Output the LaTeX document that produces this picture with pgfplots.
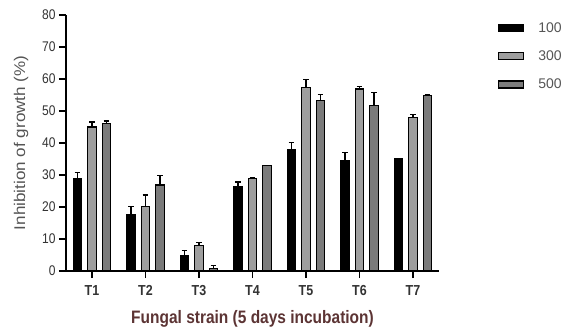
\documentclass[border=0pt]{standalone}
\usepackage{fontspec}
\setmainfont{Liberation Sans}
\newfontfamily\condfont[FakeStretch=0.86]{Liberation Sans}
\newfontfamily\widefont[FakeStretch=1.1]{Liberation Sans}
\usepackage{pgfplots}
\pgfplotsset{compat=1.18}
\definecolor{lgray}{HTML}{9E9E9E}
\definecolor{dgray}{HTML}{7B7B7B}
\definecolor{brownlab}{HTML}{5C3434}
\definecolor{ticktxt}{HTML}{333333}
\definecolor{labgray}{HTML}{555555}
\begin{document}
\begin{tikzpicture}
\path[use as bounding box] (-66pt,-58pt) rectangle (503pt,271pt);
\begin{axis}[
  scale only axis,
  width=373pt, height=256.3pt,
  xmin=0.514, xmax=7.486,
  ymin=0, ymax=80,
  ytick={0,10,...,80},
  xtick={1,...,7},
  xticklabels={T1,T2,T3,T4,T5,T6,T7},
  axis lines=left,
  axis line style={-, line width=1.8pt, black},
  xtick align=outside,
  ytick align=outside,
  major tick length=7pt,
  major tick style={draw=black, line width=1.8pt},
  ytick style={draw=black, line width=2.2pt},
  xtick style={draw=black, line width=1.8pt},
  clip=false,
  /pgf/number format/assume math mode=true,
  yticklabel style={font=\condfont\fontsize{14}{14}\selectfont, text=ticktxt},
  xticklabel style={font=\condfont\bfseries\fontsize{14.5}{14.5}\selectfont, text=ticktxt, yshift=-4pt},
  xlabel={Fungal strain (5 days incubation)},
  ylabel={Inhibition of growth (\%)},
  xlabel style={font=\condfont\bfseries\fontsize{18}{18}\selectfont, text=brownlab, at={(axis description cs:0.5,0)}, anchor=base, yshift=-52pt},
  ylabel style={font=\widefont\fontsize{15.5}{15.5}\selectfont, text=labgray, at={(axis description cs:-0.1206,0.5)}, anchor=center},
  ybar=6pt,
  bar width=8.5pt,
  legend style={at={(1.150,0.987)}, anchor=north west, draw=none, fill=none,
    font=\fontsize{14}{14}\selectfont, text=labgray, row sep=13pt,
    /tikz/every odd column/.append style={column sep=12pt}},
  legend cell align=left,
  legend image code/.code={\draw[#1, line width=1.2pt] (0pt,-3.5pt) rectangle (25pt,3.5pt);},
  error bars/y dir=plus,
  error bars/y explicit,
  error bars/error bar style={line width=1.2pt, black},
  error bars/error mark options={rotate=90, mark size=2.8pt, line width=1.2pt, black},
]
\addplot[fill=black, draw=black, line width=1.4pt] coordinates {
 (1,28.8) +- (0,2.0)
 (2,17.7) +- (0,2.4)
 (3,4.9) +- (0,1.6)
 (4,26.3) +- (0,1.5)
 (5,37.8) +- (0,2.2)
 (6,34.4) +- (0,2.5)
 (7,34.9) +- (0,0.3)
};
\addplot[fill=lgray, draw=black, line width=1.4pt] coordinates {
 (1,45.0) +- (0,1.5)
 (2,20.1) +- (0,3.6)
 (3,7.9) +- (0,1.1)
 (4,28.8) +- (0,0.5)
 (5,57.2) +- (0,2.6)
 (6,56.8) +- (0,0.9)
 (7,48.0) +- (0,0.9)
};
\addplot[fill=dgray, draw=black, line width=1.4pt] coordinates {
 (1,46.0) +- (0,0.8)
 (2,26.8) +- (0,3.0)
 (3,0.8) +- (0,1.0)
 (4,32.9) +- (0,0.0)
 (5,53.2) +- (0,2.0)
 (6,51.6) +- (0,4.1)
 (7,54.7) +- (0,0.3)
};
\legend{100,300,500}
\end{axis}
\end{tikzpicture}
\end{document}
